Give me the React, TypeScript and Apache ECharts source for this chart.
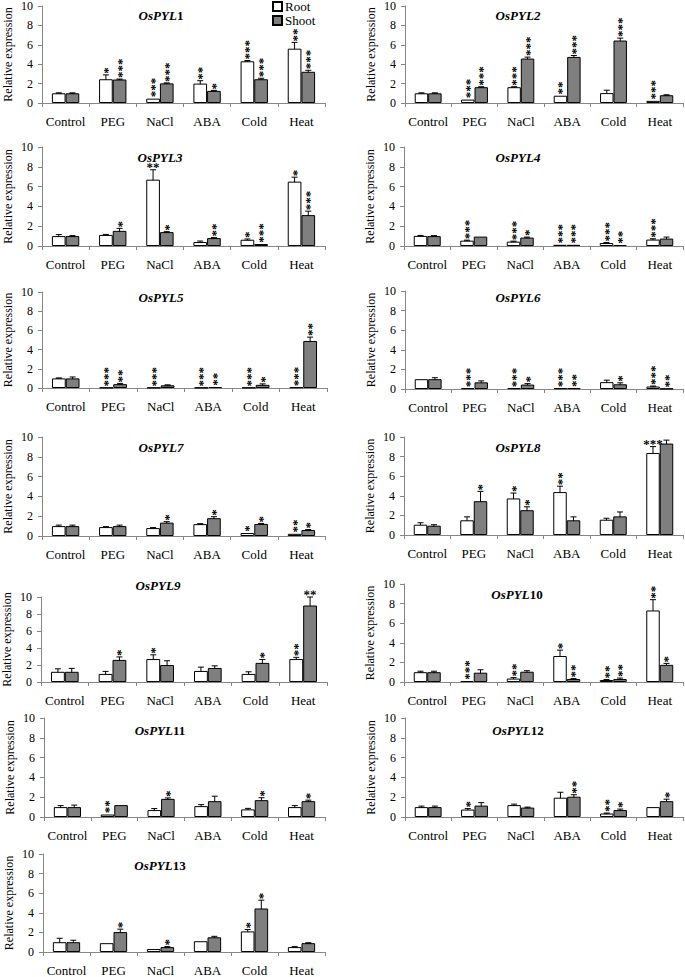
import React, { useEffect, useRef } from 'react';
import * as echarts from 'echarts';

const CATEGORIES = ['Control', 'PEG', 'NaCl', 'ABA', 'Cold', 'Heat'];
const GENE_NAMES = ['OsPYL1', 'OsPYL2', 'OsPYL3', 'OsPYL4', 'OsPYL5', 'OsPYL6', 'OsPYL7', 'OsPYL8', 'OsPYL9', 'OsPYL10', 'OsPYL11', 'OsPYL12', 'OsPYL13'];
const SERIES_NAMES = ['Root', 'Shoot'];
const Y_TICKS = [0, 2, 4, 6, 8, 10];

const ROOT_MEAN = [
  [1.0, 2.45, 0.45, 2.0, 4.3, 5.6],
  [1.0, 0.35, 1.63, 0.75, 1.02, 0.22],
  [1.0, 1.12, 6.7, 0.4, 0.63, 6.5],
  [1.02, 0.54, 0.44, 0.12, 0.3, 0.65],
  [1.0, 0.04, 0.04, 0.04, 0.04, 0.08],
  [1.0, 0.08, 0.08, 0.08, 0.7, 0.25],
  [1.0, 0.9, 0.8, 1.2, 0.3, 0.22],
  [1.05, 1.5, 3.73, 4.38, 1.56, 8.37],
  [1.2, 0.95, 2.7, 1.3, 0.95, 2.7],
  [1.0, 0.1, 0.35, 2.65, 0.2, 7.3],
  [1.0, 0.25, 0.7, 1.1, 0.77, 1.0],
  [1.0, 0.75, 1.2, 1.95, 0.35, 1.0],
  [1.0, 0.9, 0.3, 1.1, 2.1, 0.5],
];
const ROOT_ERR = [
  [0.05, 0.45, 0.03, 0.3, 0.08, 0.65],
  [0.05, 0.03, 0.05, 0.03, 0.3, 0.03],
  [0.15, 0.05, 1.0, 0.1, 0.08, 0.45],
  [0.05, 0.05, 0.05, 0.02, 0.05, 0.08],
  [0.05, 0, 0, 0, 0, 0],
  [0.03, 0, 0, 0, 0.2, 0.05],
  [0.1, 0.05, 0.05, 0.05, 0.03, 0.03],
  [0.2, 0.35, 0.55, 0.6, 0.15, 0.65],
  [0.35, 0.3, 0.5, 0.45, 0.25, 0.2],
  [0.1, 0.02, 0.1, 0.6, 0.05, 1.1],
  [0.15, 0.03, 0.15, 0.15, 0.1, 0.15],
  [0.1, 0.1, 0.1, 0.55, 0.05, 0.03],
  [0.4, 0, 0.03, 0, 0.2, 0.05],
];
const SHOOT_MEAN = [
  [1.0, 2.42, 2.02, 1.25, 2.45, 3.22],
  [1.0, 1.63, 4.58, 4.75, 6.44, 0.8],
  [1.0, 1.53, 1.4, 0.8, 0.2, 3.12],
  [1.0, 0.95, 0.85, 0.12, 0.1, 0.75],
  [1.0, 0.4, 0.28, 0.1, 0.33, 4.9],
  [1.0, 0.68, 0.45, 0.08, 0.48, 0.03],
  [1.0, 1.0, 1.35, 1.8, 1.22, 0.6],
  [0.95, 3.45, 2.53, 1.5, 1.9, 9.33],
  [1.2, 2.6, 2.0, 1.65, 2.25, 9.0],
  [1.0, 0.95, 1.05, 0.3, 0.3, 1.75],
  [1.0, 1.2, 1.83, 1.6, 1.7, 1.6],
  [1.0, 1.15, 0.95, 2.05, 0.7, 1.6],
  [1.0, 2.03, 0.5, 1.5, 4.44, 0.9],
];
const SHOOT_ERR = [
  [0.05, 0.05, 0.05, 0.05, 0.1, 0.15],
  [0.05, 0.05, 0.15, 0.15, 0.25, 0.05],
  [0.05, 0.25, 0.05, 0.05, 0.02, 0.4],
  [0.05, 0.03, 0.05, 0.02, 0.02, 0.15],
  [0.15, 0.08, 0.05, 0.02, 0.1, 0.4],
  [0.15, 0.15, 0.1, 0.02, 0.15, 0.02],
  [0.1, 0.1, 0.1, 0.15, 0.05, 0.05],
  [0.1, 1.0, 0.35, 0.35, 0.45, 0.35],
  [0.4, 0.35, 0.5, 0.25, 0.4, 1.0],
  [0.1, 0.3, 0.1, 0.05, 0.1, 0.15],
  [0.2, 0.03, 0.1, 0.5, 0.25, 0.1],
  [0.1, 0.3, 0.05, 0.2, 0.1, 0.2],
  [0.2, 0.3, 0.05, 0.1, 0.85, 0.05],
];
const ROOT_SIG = [
  ['', '*', '***', '**', '***', '**'],
  ['', '***', '***', '**', '', '***'],
  ['', '', '**', '', '*', '*'],
  ['', '***', '***', '***', '***', '***'],
  ['', '***', '***', '***', '***', '***'],
  ['', '***', '***', '***', '', '***'],
  ['', '', '', '', '*', '**'],
  ['', '', '*', '**', '', '***'],
  ['', '', '*', '', '', '**'],
  ['', '***', '**', '*', '**', '**'],
  ['', '**', '', '', '', ''],
  ['', '*', '', '', '**', ''],
  ['', '', '', '', '*', ''],
];
const SHOOT_SIG = [
  ['', '***', '***', '*', '***', '***'],
  ['', '***', '***', '***', '***', ''],
  ['', '*', '*', '**', '***', '***'],
  ['', '', '*', '***', '**', ''],
  ['', '**', '', '**', '*', '**'],
  ['', '', '*', '**', '*', '**'],
  ['', '', '*', '*', '*', '*'],
  ['', '*', '*', '', '', ''],
  ['', '*', '', '', '*', '**'],
  ['', '', '', '**', '**', '*'],
  ['', '', '*', '', '*', '*'],
  ['', '', '', '**', '*', '*'],
  ['', '*', '*', '', '*', ''],
];
// significance marks printed side by side instead of stacked: [gene, category, series]
const HORIZONTAL_SIG = [[2, 2, 0], [7, 5, 0], [8, 5, 1]];
// genes whose number is printed upright after the italic prefix
const UPRIGHT_NUMBER = [0, 9, 10, 11, 12];

// layout (pixels)
const PANELS = [
  { left: 42, top: 5, width: 283, height: 98, tx: 161, ty: 15 },
  { left: 405, top: 5, width: 278, height: 98, tx: 518, ty: 15 },
  { left: 42, top: 147, width: 283, height: 99, tx: 160, ty: 157 },
  { left: 404, top: 147, width: 279, height: 99, tx: 518, ty: 157 },
  { left: 42, top: 292, width: 285, height: 96, tx: 161, ty: 297 },
  { left: 405, top: 291, width: 278, height: 98, tx: 518, ty: 297 },
  { left: 42, top: 437, width: 283, height: 99, tx: 161, ty: 447 },
  { left: 404, top: 437, width: 279, height: 98, tx: 518, ty: 447 },
  { left: 41, top: 597, width: 286, height: 85, tx: 158, ty: 585 },
  { left: 404, top: 584, width: 279, height: 98, tx: 517, ty: 594 },
  { left: 44, top: 718, width: 281, height: 99, tx: 160, ty: 730 },
  { left: 405, top: 718, width: 278, height: 99, tx: 518, ty: 730 },
  { left: 43, top: 854, width: 282, height: 99, tx: 160, ty: 865 },
];

const FONT = '"Liberation Serif", "Times New Roman", serif';
const AXIS_COLOR = '#868686';
const BAR_FRAC = 0.29;

function buildOption() {
  const grid: any[] = [];
  const xAxis: any[] = [];
  const yAxis: any[] = [];
  const series: any[] = [];
  const graphic: any[] = [];

  PANELS.forEach((p, i) => {
    grid.push({ left: p.left, top: p.top, width: p.width, height: p.height, containLabel: false });
    xAxis.push({
      type: 'category',
      gridIndex: i,
      data: CATEGORIES,
      axisLine: { lineStyle: { color: AXIS_COLOR, width: 1 } },
      axisTick: { show: true, length: 4, lineStyle: { color: AXIS_COLOR } },
      axisLabel: { interval: 0, margin: 12, fontSize: 13, color: '#000', fontFamily: FONT },
      splitLine: { show: false },
    });
    yAxis.push({
      type: 'value',
      gridIndex: i,
      min: Y_TICKS[0],
      max: Y_TICKS[Y_TICKS.length - 1],
      interval: Y_TICKS[1] - Y_TICKS[0],
      axisLine: { show: true, lineStyle: { color: AXIS_COLOR, width: 1 } },
      axisTick: { show: true, length: 4, lineStyle: { color: AXIS_COLOR } },
      splitLine: { show: false },
      axisLabel: { margin: 9, fontSize: 12, color: '#000', fontFamily: FONT },
      name: 'Relative expression',
      nameLocation: 'middle',
      nameGap: 28,
      nameTextStyle: { fontSize: 12, color: '#000', fontFamily: FONT },
    });

    const means = [ROOT_MEAN[i], SHOOT_MEAN[i]];
    const errs = [ROOT_ERR[i], SHOOT_ERR[i]];
    const sigs = [ROOT_SIG[i], SHOOT_SIG[i]];

    SERIES_NAMES.forEach((name, s) => {
      series.push({
        type: 'bar',
        name,
        xAxisIndex: i,
        yAxisIndex: i,
        data: means[s],
        barWidth: `${BAR_FRAC * 100}%`,
        barGap: '0%',
        silent: true,
        itemStyle: {
          color: s === 0 ? '#ffffff' : '#7f7f7f',
          borderColor: '#000',
          borderWidth: 1,
        },
      });
    });

    const items: any[] = [];
    const meta: { sig: string; horiz: boolean }[] = [];
    CATEGORIES.forEach((_, c) => {
      [0, 1].forEach((s) => {
        items.push([c, s, means[s][c], errs[s][c]]);
        const horiz = HORIZONTAL_SIG.some((h) => h[0] === i && h[1] === c && h[2] === s);
        meta.push({ sig: sigs[s][c], horiz });
      });
    });

    series.push({
      type: 'custom',
      xAxisIndex: i,
      yAxisIndex: i,
      clip: false,
      silent: true,
      encode: { x: 0, y: 2 },
      itemStyle: { color: '#000' },
      data: items,
      renderItem: (params: any, api: any) => {
        const c = api.value(0);
        const s = api.value(1);
        const v = api.value(2);
        const e = api.value(3);
        const band = api.size([1, 0])[0];
        const bw = band * BAR_FRAC;
        const cx = api.coord([c, 0])[0] + (s === 0 ? -bw / 2 : bw / 2);
        const yHi = api.coord([c, v + e])[1];
        const yLo = api.coord([c, Math.max(0, v - e)])[1];
        const yBar = api.coord([c, v])[1];
        const children: any[] = [];
        const capW = 3;
        if (e > 0.04) {
          const ls = { stroke: '#000', lineWidth: 1, fill: 'none' };
          children.push({ type: 'line', shape: { x1: cx, y1: yHi, x2: cx, y2: yLo }, style: ls });
          children.push({ type: 'line', shape: { x1: cx - capW, y1: yHi, x2: cx + capW, y2: yHi }, style: ls });
          children.push({ type: 'line', shape: { x1: cx - capW, y1: yLo, x2: cx + capW, y2: yLo }, style: ls });
        }
        const m = meta[params.dataIndex];
        if (m && m.sig) {
          const top = Math.min(yHi, yBar);
          if (m.horiz) {
            children.push({
              type: 'text',
              x: cx,
              y: top + 4,
              rotation: 0.003,
              style: {
                text: m.sig,
                fill: '#000',
                fontSize: 13,
                fontWeight: 'bold',
                fontFamily: FONT,
                align: 'center',
                verticalAlign: 'bottom',
              },
            });
          } else {
            children.push({
              type: 'text',
              x: cx + 1.5,
              y: top - 1,
              rotation: Math.PI / 2,
              style: {
                text: m.sig,
                fill: '#000',
                fontSize: 13,
                fontWeight: 'bold',
                fontFamily: FONT,
                align: 'left',
                verticalAlign: 'middle',
              },
            });
          }
        }
        return { type: 'group', children };
      },
    });

    const name = GENE_NAMES[i];
    const prefix = name.replace(/\d+$/, '');
    const num = name.slice(prefix.length);
    const numStyle = UPRIGHT_NUMBER.includes(i) ? 'n' : 'i';
    graphic.push({
      type: 'text',
      x: p.tx,
      y: p.ty,
      silent: true,
      style: {
        text: `{i|${prefix}}{${numStyle}|${num}}`,
        align: 'center',
        verticalAlign: 'middle',
        rich: {
          i: { fontStyle: 'italic', fontWeight: 'bold', fontSize: 13, fontFamily: FONT, fill: '#000' },
          n: { fontWeight: 'bold', fontSize: 13, fontFamily: FONT, fill: '#000' },
        },
      },
    });
  });

  return {
    animation: false,
    backgroundColor: '#fff',
    grid,
    xAxis,
    yAxis,
    series,
    graphic,
    legend: {
      data: SERIES_NAMES,
      orient: 'vertical',
      left: 272,
      top: 0,
      padding: 0,
      itemGap: 1,
      itemWidth: 9,
      itemHeight: 9,
      icon: 'rect',
      selectedMode: false,
      textStyle: { fontSize: 13, lineHeight: 13, color: '#000', fontFamily: FONT, padding: [0, 0, 0, -2] },
    },
  };
}

export default function App() {
  const ref = useRef<HTMLDivElement>(null);
  useEffect(() => {
    if (!ref.current) return;
    const chart = echarts.init(ref.current, undefined, { renderer: 'svg' });
    chart.setOption(buildOption() as any);
    return () => chart.dispose();
  }, []);
  return (
    <div
      ref={ref}
      style={{ position: 'fixed', left: 0, top: 0, width: 685, height: 977, background: '#fff' }}
    />
  );
}
